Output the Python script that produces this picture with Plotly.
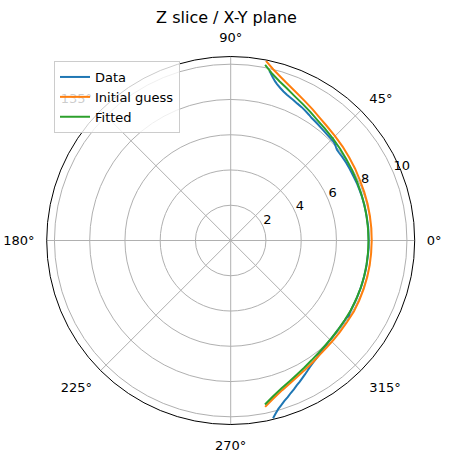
import plotly.graph_objects as go

# ---- data ----
theta_data = [-76.6, -75.5, -74.2, -73.0, -71.5, -70.0, -68.5, -67.0, -65.5, -64.0,
              -62.5, -61.0, -59.5, -58.0, -56.0, -54.0, -52.0, -50.0, -48.0, -46.0,
              -44.0, -42.0, -40.0, -37.0, -34.0, -32.5, -31.5, -30.0, -27.0, -24.0,
              -21.0, -18.0, -15.0, -12.0, -9.0, -6.0, -3.0, 0.0, 3.0, 6.0,
              9.0, 12.0, 15.0, 18.0, 21.0, 24.0, 27.5, 31.0, 34.0, 37.0,
              39.0, 40.5, 41.5, 42.5, 43.9, 45.5, 47.0, 49.0, 51.0, 53.0,
              55.0, 56.5, 58.0, 60.3, 62.0, 64.0, 66.0, 68.9, 70.5, 72.0,
              73.5, 74.4, 75.5, 76.3, 76.8, 77.2]
r_data = [10.37, 10.15, 9.93, 9.78, 9.60, 9.46, 9.30, 9.17, 9.03, 8.92,
          8.80, 8.69, 8.58, 8.47, 8.36, 8.27, 8.18, 8.10, 8.05, 8.00,
          7.97, 7.95, 7.92, 7.91, 7.90, 7.96, 7.91, 7.88, 7.87, 7.86,
          7.85, 7.85, 7.84, 7.84, 7.83, 7.83, 7.84, 7.83, 7.83, 7.84,
          7.83, 7.84, 7.84, 7.85, 7.85, 7.86, 7.86, 7.88, 7.90, 7.91,
          7.91, 7.93, 7.98, 8.04, 8.09, 8.10, 8.12, 8.15, 8.19, 8.24,
          8.29, 8.33, 8.40, 8.50, 8.57, 8.64, 8.73, 8.86, 8.97, 9.10,
          9.25, 9.37, 9.55, 9.70, 9.81, 9.86]

theta_guess = [-78.3, -75, -71, -67, -63, -60, -56, -52, -48, -44, -40, -35, -30,
               -25, -20, -15, -10, -5, 0, 5, 10, 15, 20, 25, 30, 35, 40, 45, 50,
               54, 58, 62, 66, 70, 73, 76, 78.9]
r_guess = [9.64, 9.30, 8.98, 8.75, 8.56, 8.46, 8.33, 8.22, 8.15, 8.11, 8.08, 8.06, 8.07,
           8.05, 8.03, 8.02, 8.01, 8.00, 8.00, 8.01, 8.02, 8.04, 8.06, 8.09, 8.15, 8.21,
           8.29, 8.37, 8.48, 8.60, 8.77, 8.96, 9.18, 9.45, 9.70, 10.00, 10.39]

theta_fit = [-78.2, -75, -71, -67, -63, -60, -56, -52, -48, -44, -40, -35, -30,
             -25, -20, -15, -10, -5, 0, 5, 10, 15, 20, 25, 30, 35, 40, 45, 50,
             54, 58, 62, 66, 70, 73, 76, 78.9]
r_fit = [9.51, 9.18, 8.87, 8.64, 8.45, 8.34, 8.20, 8.09, 8.01, 7.96, 7.92, 7.89, 7.88,
         7.86, 7.85, 7.84, 7.83, 7.82, 7.82, 7.82, 7.83, 7.85, 7.87, 7.91, 7.96, 8.02,
         8.10, 8.19, 8.30, 8.41, 8.57, 8.75, 8.95, 9.22, 9.45, 9.75, 10.15]

radial_ticks = [2, 4, 6, 8, 10]
radial_labels = [str(v) for v in radial_ticks]
radial_label_angle = 22.5
angle_ticks = [0, 45, 90, 135, 180, 225, 270, 315]
angle_labels = [f"{a}°" for a in angle_ticks]
r_max = 10.44

W, H = 453, 462

fig = go.Figure()
fig.add_trace(go.Scatterpolar(r=r_data, theta=theta_data, mode="lines", name="Data",
                              line=dict(color="#1f77b4", width=2)))
fig.add_trace(go.Scatterpolar(r=r_guess, theta=theta_guess, mode="lines", name="Initial guess",
                              line=dict(color="#ff7f0e", width=2)))
fig.add_trace(go.Scatterpolar(r=r_fit, theta=theta_fit, mode="lines", name="Fitted",
                              line=dict(color="#2ca02c", width=2)))
# radial tick labels, placed like matplotlib's (horizontal, up-right of the 22.5° spoke)
fig.add_trace(go.Scatterpolar(r=radial_ticks, theta=[radial_label_angle] * len(radial_ticks),
                              mode="text", text=radial_labels, textposition="top right",
                              textfont=dict(size=13, color="black"),
                              showlegend=False, hoverinfo="skip"))

fig.update_layout(
    width=W, height=H,
    paper_bgcolor="white",
    font=dict(family="DejaVu Sans", size=13, color="black"),
    margin=dict(l=0, r=0, t=0, b=0, autoexpand=False),
    title=dict(text="Z slice / X-Y plane", x=0.5, xanchor="center",
               xref="paper", yref="paper", y=1 - 17 / H, yanchor="middle",
               font=dict(size=16, color="black")),
    polar=dict(
        domain=dict(x=[46.7 / W, 414.7 / W], y=[1 - 424.5 / H, 1 - 56.5 / H]),
        bgcolor="white",
        radialaxis=dict(range=[0, r_max], tickvals=radial_ticks, angle=radial_label_angle,
                        showticklabels=False,
                        showline=False, ticks="", gridcolor="#b0b0b0", gridwidth=0.8),
        angularaxis=dict(tickvals=angle_ticks, ticktext=angle_labels, direction="counterclockwise",
                         rotation=0, showline=True, linecolor="black", linewidth=1,
                         ticks="outside", ticklen=9, tickcolor="rgba(0,0,0,0)",
                         gridcolor="#b0b0b0", gridwidth=0.8,
                         tickfont=dict(size=13, color="black")),
    ),
    legend=dict(x=54 / W, y=1 - 61 / H, xanchor="left", yanchor="top",
                bgcolor="rgba(255,255,255,0.8)", bordercolor="#cccccc", borderwidth=1,
                font=dict(size=13)),
    showlegend=True,
)

fig.write_html("out.html", config={"displayModeBar": False},
               post_script="document.body.style.margin='0';document.body.style.padding='0';")
